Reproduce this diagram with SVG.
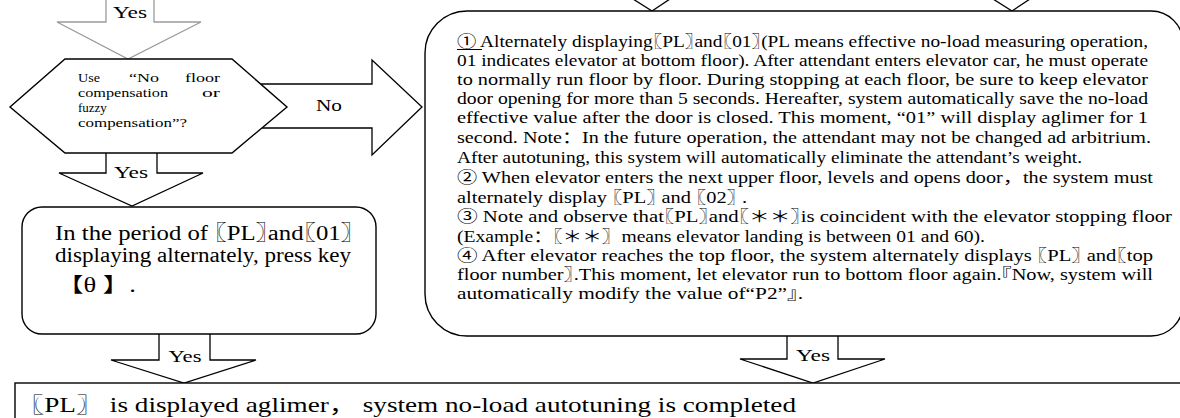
<svg xmlns="http://www.w3.org/2000/svg" width="1180" height="418" viewBox="0 0 1180 418">
<style>
.shape{fill:#fff;stroke:#000;stroke-width:1.4}
.arrow{fill:#fff;stroke:#000;stroke-width:1.3;stroke-linejoin:miter}
.gray{stroke:#9a9a9a}
.t{font-family:"Liberation Serif","Noto Sans CJK SC",serif;fill:#000;font-feature-settings:"halt"}
.fw{font-feature-settings:normal}
.hx{font-size:13px}
.bx{font-size:16px}
.lb{font-size:20px}
.lab{font-size:17px;text-anchor:middle}
</style>
<rect x="0" y="0" width="1180" height="418" fill="#fff"/>

<g id="connectors">
  <polyline class="arrow gray" points="106,-2 106,22 57,22 128,59 201,22 154,22 154,-2"/>
  <text class="t lab" x="130" y="18" textLength="34" lengthAdjust="spacingAndGlyphs">Yes</text>
  <polyline class="arrow" style="fill:none" points="633,-1 652,11 670,-1"/>
  <polyline class="arrow" style="fill:none" points="993,-1 1012,11 1030,-1"/>
  <polyline class="arrow" points="261,84 372,84 372,60 422,107 372,155 372,128 262,128"/>
  <text class="t" x="316" y="111" font-size="16" textLength="26" lengthAdjust="spacingAndGlyphs">No</text>
  <polyline class="arrow" points="106,153 106,173 59,173 132,206 203,173 157,173 157,153"/>
  <text class="t lab" x="131" y="178" textLength="34" lengthAdjust="spacingAndGlyphs">Yes</text>
  <polyline class="arrow" points="159,334 159,360 111,360 184,383 256,360 210,360 210,334"/>
  <text class="t lab" x="185" y="362" textLength="33" lengthAdjust="spacingAndGlyphs">Yes</text>
  <polyline class="arrow" points="787,336 787,359 740,359 813,383 885,359 838,359 838,336"/>
  <text class="t lab" x="813" y="361" textLength="34" lengthAdjust="spacingAndGlyphs">Yes</text>
</g>

<g id="decision">
  <polygon class="shape" points="65,59 232,59 287,107 232,153 65,153 10,107"/>
  <text class="t hx" x="78" y="82" textLength="22" lengthAdjust="spacingAndGlyphs">Use</text>
  <text class="t hx" x="129" y="82" textLength="30" lengthAdjust="spacingAndGlyphs">“No</text>
  <text class="t hx" x="185" y="82" textLength="35" lengthAdjust="spacingAndGlyphs">floor</text>
  <text class="t hx" x="78" y="97" textLength="90" lengthAdjust="spacingAndGlyphs">compensation</text>
  <text class="t hx" x="202" y="97" textLength="18" lengthAdjust="spacingAndGlyphs">or</text>
  <text class="t hx" x="78" y="112">fuzzy</text>
  <text class="t hx" x="78" y="127" textLength="109" lengthAdjust="spacingAndGlyphs">compensation”?</text>
</g>

<g id="press-key">
  <rect class="shape" x="22" y="207" width="354" height="127" rx="20" ry="20"/>
  <text class="t lb" x="55" y="240" textLength="298" lengthAdjust="spacingAndGlyphs">In the period of 〖PL〗and〖01〗</text>
  <text class="t lb" x="55" y="262" textLength="296" lengthAdjust="spacingAndGlyphs">displaying alternately, press key</text>
  <text class="t lb fw" x="57" y="292" textLength="79" lengthAdjust="spacingAndGlyphs">【θ 】.</text>
</g>

<g id="procedure">
  <path class="shape" d="M467,11 H1151 A32,32 0 0 1 1183,43 V304 A32,32 0 0 1 1151,336 H467 A42,42 0 0 1 425,294 V53 A42,42 0 0 1 467,11 Z"/>
  <line x1="457" y1="49.5" x2="482" y2="49.5" stroke="#000" stroke-width="1"/>
  <text class="t bx" x="457" y="47" textLength="691" lengthAdjust="spacingAndGlyphs">① Alternately displaying〖PL〗and〖01〗(PL means effective no-load measuring operation,</text>
  <text class="t bx" x="457" y="66" textLength="691" lengthAdjust="spacingAndGlyphs">01 indicates elevator at bottom floor). After attendant enters elevator car, he must operate</text>
  <text class="t bx" x="457" y="85" textLength="691" lengthAdjust="spacingAndGlyphs">to normally run floor by floor. During stopping at each floor, be sure to keep elevator</text>
  <text class="t bx" x="457" y="104" textLength="691" lengthAdjust="spacingAndGlyphs">door opening for more than 5 seconds. Hereafter, system automatically save the no-load</text>
  <text class="t bx" x="457" y="123" textLength="691" lengthAdjust="spacingAndGlyphs">effective value after the door is closed. This moment,  “01”  will display aglimer for 1</text>
  <text class="t bx fw" x="457" y="143" textLength="694" lengthAdjust="spacingAndGlyphs">second. Note：In the future operation, the attendant may not be changed ad arbitrium.</text>
  <text class="t bx" x="457" y="163" textLength="625" lengthAdjust="spacingAndGlyphs">After autotuning, this system will automatically eliminate the attendant’s weight.</text>
  <text class="t bx fw" x="457" y="183" textLength="696" lengthAdjust="spacingAndGlyphs">② When elevator enters the next upper floor, levels and opens door，the system must</text>
  <text class="t bx" x="457" y="203" textLength="290" lengthAdjust="spacingAndGlyphs">alternately display 〖PL〗 and 〖02〗 .</text>
  <text class="t bx" x="457" y="222" textLength="715" lengthAdjust="spacingAndGlyphs">③ Note and observe that〖PL〗and〖＊＊〗is coincident with the elevator stopping floor</text>
  <text class="t bx fw" x="457" y="242" textLength="528" lengthAdjust="spacingAndGlyphs">(Example：〖＊＊〗means elevator landing is between 01 and 60).</text>
  <text class="t bx" x="457" y="261" textLength="696" lengthAdjust="spacingAndGlyphs">④ After elevator reaches the top floor, the system alternately displays 〖PL〗 and〖top</text>
  <text class="t bx" x="457" y="280" textLength="696" lengthAdjust="spacingAndGlyphs">floor number〗.This moment, let elevator run to bottom floor again.『Now, system will</text>
  <text class="t bx" x="457" y="299" textLength="346" lengthAdjust="spacingAndGlyphs">automatically modify the value of“P2”』.</text>
</g>

<g id="completed">
  <rect class="shape" x="15" y="383" width="1190" height="60"/>
  <text class="t fw" x="17" y="412" font-size="21" textLength="779" lengthAdjust="spacingAndGlyphs">〖PL〗 is displayed aglimer， system no-load autotuning is completed</text>
</g>
</svg>
